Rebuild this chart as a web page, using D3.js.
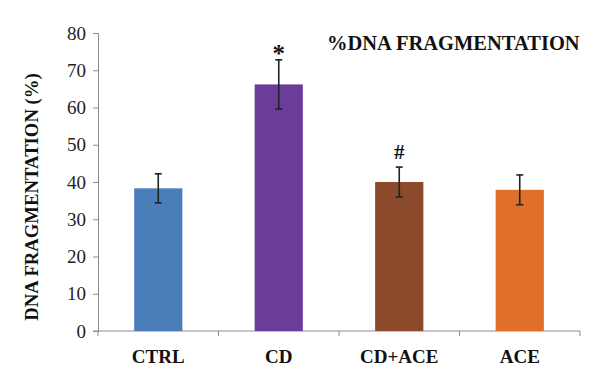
<!DOCTYPE html>
<html><head><meta charset="utf-8">
<script src="https://cdn.jsdelivr.net/npm/d3@7"></script>
<style>body{margin:0;background:#fff}svg{display:block}
svg text{font-family:"Liberation Serif","DejaVu Serif",serif;}
</style>
</head><body>
<svg id="c" width="600" height="383"></svg>
<script>
const categories = ["CTRL", "CD", "CD+ACE", "ACE"];
const values = [38.3, 66.2, 40.0, 37.9];
const errors = [3.9, 6.6, 4.0, 4.0];
const marks = ["", "*", "#", ""];
const colors = ["#4a7ebb", "#6b3d9a", "#8a4a2b", "#e06f2b"];
const yTicks = [0, 10, 20, 30, 40, 50, 60, 70, 80];

const svg = d3.select("#c");
const m = {left: 98, right: 20, top: 33, bottom: 52};
const W = 600, H = 383;
const x = d3.scaleBand().domain(categories).range([m.left, W - m.right]).paddingInner(0.6).paddingOuter(0.3);
const y = d3.scaleLinear().domain([0, 80]).range([H - m.bottom, m.top]);
const axisColor = "#8c8c8c";

// y axis
const ya = svg.append("g").attr("transform", `translate(${m.left},0)`)
  .call(d3.axisLeft(y).tickValues(yTicks).tickSize(5).tickPadding(7));
ya.attr("font-family", null);
ya.select(".domain").attr("stroke", axisColor);
ya.selectAll(".tick line").attr("stroke", axisColor);
ya.selectAll(".tick text").attr("font-size", 19).attr("fill", "#222");

// x axis with ticks at band boundaries
const xg = svg.append("g").attr("transform", `translate(0,${y(0)})`);
xg.append("line").attr("x1", m.left - 5).attr("x2", W - m.right).attr("stroke", axisColor);
const bounds = d3.range(categories.length + 1).map(i => m.left + i * ((W - m.right - m.left) / categories.length));
xg.selectAll("line.t").data(bounds).join("line").attr("class", "t")
  .attr("x1", d => d).attr("x2", d => d).attr("y1", 0).attr("y2", 5).attr("stroke", axisColor);
xg.selectAll("text").data(categories).join("text")
  .attr("x", d => x(d) + x.bandwidth() / 2).attr("y", 32)
  .attr("text-anchor", "middle").attr("font-weight", "bold")
  .attr("font-size", 19).attr("fill", "#111").text(d => d);

// bars
const data = categories.map((c, i) => ({c, v: values[i], e: errors[i], m: marks[i], col: colors[i]}));
svg.selectAll("rect.bar").data(data).join("rect").attr("class", "bar")
  .attr("x", d => x(d.c)).attr("width", x.bandwidth())
  .attr("y", d => y(d.v)).attr("height", d => y(0) - y(d.v)).attr("fill", d => d.col);

// error bars
const eg = svg.append("g").attr("stroke", "#222").attr("stroke-width", 1.6);
data.forEach(d => {
  const cx = x(d.c) + x.bandwidth() / 2;
  eg.append("line").attr("x1", cx).attr("x2", cx).attr("y1", y(d.v + d.e)).attr("y2", y(d.v - d.e));
  eg.append("line").attr("x1", cx - 3.5).attr("x2", cx + 3.5).attr("y1", y(d.v + d.e)).attr("y2", y(d.v + d.e));
  eg.append("line").attr("x1", cx - 3.5).attr("x2", cx + 3.5).attr("y1", y(d.v - d.e)).attr("y2", y(d.v - d.e));
});

// significance marks
svg.selectAll("text.mk").data(data.filter(d => d.m)).join("text").attr("class", "mk")
  .attr("x", d => x(d.c) + x.bandwidth() / 2)
  .attr("y", d => y(d.v + d.e) - (d.m === "*" ? -2 : 8))
  .attr("text-anchor", "middle").attr("font-weight", "bold")
  .attr("font-size", d => d.m === "*" ? 25 : 21).attr("fill", "#111").text(d => d.m);

// title
svg.append("text").attr("x", 327).attr("y", 50)
  .attr("font-weight", "bold").attr("font-size", 20.5).attr("fill", "#111").text("%DNA FRAGMENTATION");

// y label
svg.append("text").attr("transform", `translate(38,197) rotate(-90)`)
  .attr("text-anchor", "middle").attr("font-weight", "bold")
  .attr("font-size", 18.7).attr("fill", "#111").text("DNA FRAGMENTATION (%)");
</script>
</body></html>
